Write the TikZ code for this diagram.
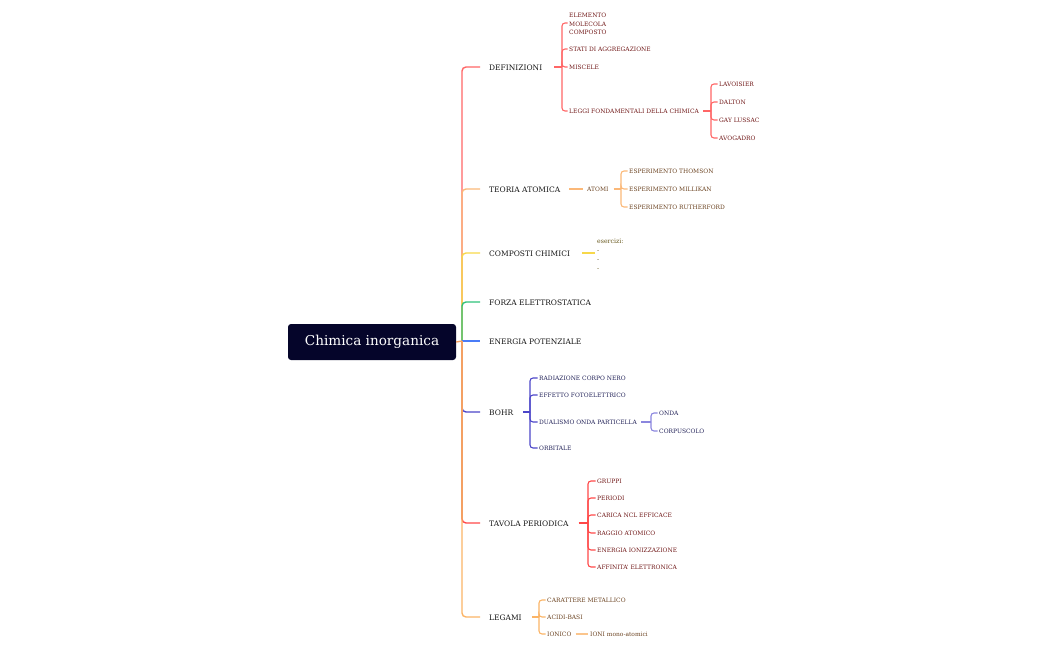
\documentclass[tikz,border=0pt]{standalone}
\usepackage{fontspec}
\setmainfont{DejaVu Serif}
\newcommand\mainsz{\fontsize{7.5}{9}\selectfont}
\newcommand\subsz{\fontsize{5.95}{8.5}\selectfont}
\newcommand\rootsz{\fontsize{13.6}{16}\selectfont}
\definecolor{rootbg}{HTML}{05052A}
\definecolor{maintext}{HTML}{151515}
\definecolor{cRed}{HTML}{FF6666}
\definecolor{cOrange}{HTML}{FBB878}
\definecolor{cYellow}{HTML}{F7D84A}
\definecolor{cGreen}{HTML}{2EC27A}
\definecolor{cBlue}{HTML}{4A7CF7}
\definecolor{cPurple}{HTML}{4B45C8}
\definecolor{cPurpleL}{HTML}{8B86DE}
\definecolor{cRed2}{HTML}{FF4848}
\definecolor{cTrunk}{HTML}{F4A063}
\definecolor{cLeg}{HTML}{FBB466}
\definecolor{cLegL}{HTML}{FBC58C}
\definecolor{tRed}{HTML}{701818}
\definecolor{tBrown}{HTML}{6A4220}
\definecolor{tOlive}{HTML}{655519}
\definecolor{tNavy}{HTML}{222258}
\tikzset{
  mainnode/.style={anchor=west, inner sep=0pt, font=\mainsz, text=maintext, text height=6.5pt, text depth=0pt},
  multinode/.style={anchor=west, inner sep=0pt, font=\subsz, align=left},
  subnode/.style={multinode, text height=5.3pt, text depth=0pt},
  ml/.style={line width=1.4pt, rounded corners=4pt},
  sl/.style={line width=1.1pt},
  slr/.style={line width=1.1pt, rounded corners=3pt},
}
\begin{document}
\begin{tikzpicture}[x=1pt,y=-1pt]
\useasboundingbox (0,0) rectangle (1050,650);
% root
\node[fill=rootbg, rounded corners=3pt, minimum width=168pt, minimum height=36pt, inner sep=0pt,
      text=white, font=\rootsz] (root) at (372,342) {Chimica inorganica};
\coordinate (tr) at (462,341);

% main nodes
\node[mainnode] (def) at (489,67) {DEFINIZIONI};
\node[mainnode] (teo) at (489,189) {TEORIA ATOMICA};
\node[mainnode] (comp) at (489,253) {COMPOSTI CHIMICI};
\node[mainnode] (forza) at (489,302) {FORZA ELETTROSTATICA};
\node[mainnode] (energ) at (489,341) {ENERGIA POTENZIALE};
\node[mainnode] (bohr) at (489,412) {BOHR};
\node[mainnode] (tav) at (489,523) {TAVOLA PERIODICA};
\node[mainnode] (leg) at (489,617) {LEGAMI};

% main connectors (upper)
\draw[ml, cRed] (tr) |- ([xshift=-9pt]def.west);
\draw[ml, cOrange] (tr) |- ([xshift=-9pt]teo.west);
\draw[ml, cYellow] (tr) |- ([xshift=-9pt]comp.west);
\draw[ml, cGreen] (tr) |- ([xshift=-9pt]forza.west);
\draw[ml, cBlue] (tr) -- ([xshift=-9pt]energ.west |- tr);
% lower
\draw[ml, cPurple] (tr) |- ([xshift=-9pt]bohr.west);
\draw[ml, cRed2] (tr) |- ([xshift=-9pt]tav.west);
\draw[ml, cLeg] (tr) |- ([xshift=-9pt]leg.west);
\draw[line width=1.4pt, cTrunk] (tr) -- (462,519);
\draw[line width=1.4pt, cTrunk] (root.east) -- (tr);

% DEFINIZIONI children
\node[multinode, text=tRed] (elem) at (569,24) {ELEMENTO\\MOLECOLA\\COMPOSTO};
\node[subnode, text=tRed] (stati) at (569,49) {STATI DI AGGREGAZIONE};
\node[subnode, text=tRed] (misc) at (569,67) {MISCELE};
\node[subnode, text=tRed] (leggi) at (569,111) {LEGGI FONDAMENTALI DELLA CHIMICA};
\coordinate (defj) at (562,67);
\draw[sl, cRed] ([xshift=12pt]def.east) -- (defj);
\draw[slr, cRed] (defj) |- ([xshift=-1.5pt,yshift=1pt]elem.west);
\foreach \n in {stati,misc,leggi} \draw[slr, cRed] (defj) |- ([xshift=-1.5pt]\n.west);

% LEGGI children
\node[subnode, text=tRed] (lav) at (719,84) {LAVOISIER};
\node[subnode, text=tRed] (dal) at (719,102) {DALTON};
\node[subnode, text=tRed] (gay) at (719,120) {GAY LUSSAC};
\node[subnode, text=tRed] (avo) at (719,138) {AVOGADRO};
\coordinate (legj) at (711,111);
\draw[sl, cRed] ([xshift=4pt]leggi.east) -- (legj);
\foreach \n in {lav,dal,gay,avo} \draw[slr, cRed] (legj) |- ([xshift=-1.5pt]\n.west);

% TEORIA
\node[subnode, text=tBrown] (atomi) at (587,189) {ATOMI};
\draw[sl, cOrange] ([xshift=9pt]teo.east) -- ([xshift=-4pt]atomi.west);
\node[subnode, text=tBrown] (tho) at (629,171) {ESPERIMENTO THOMSON};
\node[subnode, text=tBrown] (mil) at (629,189) {ESPERIMENTO MILLIKAN};
\node[subnode, text=tBrown] (rut) at (629,207) {ESPERIMENTO RUTHERFORD};
\coordinate (atj) at (621,189);
\draw[sl, cOrange] ([xshift=5pt]atomi.east) -- (atj);
\foreach \n in {tho,mil,rut} \draw[slr, cOrange] (atj) |- ([xshift=-1.5pt]\n.west);

% COMPOSTI
\node[multinode, text=tOlive, font=\fontsize{6.2}{8.9}\selectfont] (eserc) at (597,254.5) {esercizi:\\-\\-\\-};
\draw[sl, cYellow] ([xshift=12pt]comp.east) -- ([xshift=-2pt]eserc.west |- comp.east);

% BOHR
\node[subnode, text=tNavy] (rad) at (539,378) {RADIAZIONE CORPO NERO};
\node[subnode, text=tNavy] (eff) at (539,395) {EFFETTO FOTOELETTRICO};
\node[subnode, text=tNavy] (dual) at (539,422) {DUALISMO ONDA PARTICELLA};
\node[subnode, text=tNavy] (orb) at (539,448) {ORBITALE};
\coordinate (bj) at (530,412);
\draw[sl, cPurple] ([xshift=10pt]bohr.east) -- (bj);
\foreach \n in {rad,eff,dual,orb} \draw[slr, cPurple] (bj) |- ([xshift=-1.5pt]\n.west);
\node[subnode, text=tNavy] (onda) at (659,413) {ONDA};
\node[subnode, text=tNavy] (corp) at (659,431) {CORPUSCOLO};
\coordinate (dj) at (651,422);
\draw[sl, cPurpleL] ([xshift=4pt]dual.east) -- (dj);
\foreach \n in {onda,corp} \draw[slr, cPurpleL] (dj) |- ([xshift=-1.5pt]\n.west);

% TAVOLA
\node[subnode, text=tRed] (gru) at (597,481) {GRUPPI};
\node[subnode, text=tRed] (per) at (597,498) {PERIODI};
\node[subnode, text=tRed] (car) at (597,515) {CARICA NCL EFFICACE};
\node[subnode, text=tRed] (rag) at (597,533) {RAGGIO ATOMICO};
\node[subnode, text=tRed] (eni) at (597,550) {ENERGIA IONIZZAZIONE};
\node[subnode, text=tRed] (aff) at (597,567) {AFFINITA' ELETTRONICA};
\coordinate (tj) at (588,523);
\draw[sl, cRed2] ([xshift=10pt]tav.east) -- (tj);
\foreach \n in {gru,per,car,rag,eni,aff} \draw[slr, cRed2] (tj) |- ([xshift=-1.5pt]\n.west);

% LEGAMI
\node[subnode, text=tBrown] (cm) at (547,600) {CARATTERE METALLICO};
\node[subnode, text=tBrown] (acid) at (547,617) {ACIDI-BASI};
\node[subnode, text=tBrown] (ion) at (547,634) {IONICO};
\coordinate (lj) at (539,617);
\draw[sl, cLeg] ([xshift=10pt]leg.east) -- (lj);
\foreach \n in {cm,acid,ion} \draw[slr, cLeg] (lj) |- ([xshift=-1.5pt]\n.west);
\node[subnode, text=tBrown] (ioni) at (590,634) {IONI mono-atomici};
\draw[sl, cLegL] ([xshift=4pt]ion.east) -- ([xshift=-2pt]ioni.west);
\end{tikzpicture}
\end{document}
